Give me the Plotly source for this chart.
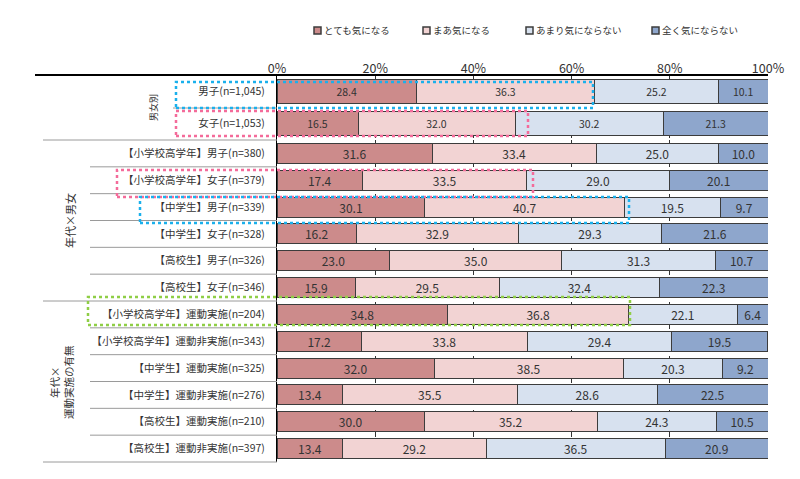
import plotly.graph_objects as go

# ---------------- data ----------------
series_names = ["とても気になる", "まあ気になる", "あまり気にならない", "全く気にならない"]

top_labels = ["男子(n=1,045)", "女子(n=1,053)"]
top_very = [28.4, 16.5]
top_some = [36.3, 32.0]
top_notmuch = [25.2, 30.2]
top_notatall = [10.1, 21.3]

bottom_labels = [
    "【小学校高学年】男子(n=380)",
    "【小学校高学年】女子(n=379)",
    "【中学生】男子(n=339)",
    "【中学生】女子(n=328)",
    "【高校生】男子(n=326)",
    "【高校生】女子(n=346)",
    "【小学校高学年】運動実施(n=204)",
    "【小学校高学年】運動非実施(n=343)",
    "【中学生】運動実施(n=325)",
    "【中学生】運動非実施(n=276)",
    "【高校生】運動実施(n=210)",
    "【高校生】運動非実施(n=397)",
]
bottom_very = [31.6, 17.4, 30.1, 16.2, 23.0, 15.9, 34.8, 17.2, 32.0, 13.4, 30.0, 13.4]
bottom_some = [33.4, 33.5, 40.7, 32.9, 35.0, 29.5, 36.8, 33.8, 38.5, 35.5, 35.2, 29.2]
bottom_notmuch = [25.0, 29.0, 19.5, 29.3, 31.3, 32.4, 22.1, 29.4, 20.3, 28.6, 24.3, 36.5]
bottom_notatall = [10.0, 20.1, 9.7, 21.6, 10.7, 22.3, 6.4, 19.5, 9.2, 22.5, 10.5, 20.9]

x_ticks = [0, 20, 40, 60, 80, 100]

group_labels = ["男女別", "年代×男女", "年代×<br>運動実施の有無"]

# ---------------- styling ----------------
FONT = "Noto Sans CJK JP"
colors = ["#cc8b8b", "#f2d3d3", "#d7e1ef", "#8ea6cc"]
outline = "#3c3c3c"
W, H = 800, 479
# page body margin shifts the figure by ~8px; compensate
OFF = 8
PX_LEFT, PX_RIGHT, PX_TOP, PX_BOTTOM = 277, 768, 75, 462  # plot area in window pixels
plot_w = PX_RIGHT - PX_LEFT
plot_h = PX_BOTTOM - PX_TOP
L = PX_LEFT - OFF
T = PX_TOP - OFF
R = W - (PX_RIGHT - OFF)
B = H - (PX_BOTTOM - OFF)

def px_x(px):
    return (px - PX_LEFT) / plot_w

def px_y(py):
    return (PX_BOTTOM - py) / plot_h

split = px_y(140)  # boundary between the two groups (paper)

fig = go.Figure()

top_series = [top_very, top_some, top_notmuch, top_notatall]
bottom_series = [bottom_very, bottom_some, bottom_notmuch, bottom_notatall]

for i, name in enumerate(series_names):
    fig.add_trace(go.Bar(
        name=name, x=top_series[i], y=top_labels, orientation="h",
        xaxis="x", yaxis="y",
        marker=dict(color=colors[i], line=dict(color=outline, width=1)),
        text=top_series[i], texttemplate="%{x:.1f}", textposition="inside",
        insidetextanchor="middle", constraintext="none", textangle=0,
        textfont=dict(family=FONT, size=10.5, color="#333333"),
        showlegend=False, hoverinfo="skip",
    ))
    fig.add_trace(go.Bar(
        name=name, x=bottom_series[i], y=bottom_labels, orientation="h",
        xaxis="x", yaxis="y2",
        marker=dict(color=colors[i], line=dict(color=outline, width=1)),
        text=bottom_series[i], texttemplate="%{x:.1f}", textposition="inside",
        insidetextanchor="middle", constraintext="none", textangle=0,
        textfont=dict(family=FONT, size=12, color="#333333"),
        showlegend=False, hoverinfo="skip",
    ))

shapes = []
annotations = []

def hline(py, x0px, x1px, color="#9a9a9a", width=1):
    shapes.append(dict(type="line", xref="paper", yref="paper",
                       x0=px_x(x0px), x1=px_x(x1px), y0=px_y(py), y1=px_y(py),
                       line=dict(color=color, width=width)))

# top heavy line
hline(75, 35, 768, color="#000000", width=2)
# separator inside first group
hline(108, 173, 277)
# group separators
hline(140, 43, 277)
n_b = len(bottom_labels)
for k in range(1, n_b):
    yb = split * (1 - k / n_b)
    x0 = 43 if k == 6 else 90
    shapes.append(dict(type="line", xref="paper", yref="paper",
                       x0=px_x(x0), x1=0, y0=yb, y1=yb,
                       line=dict(color="#9a9a9a", width=1)))
hline(462, 43, 277)

def box(x0px, x1px, y0px, y1px, color):
    shapes.append(dict(type="rect", xref="paper", yref="paper",
                       x0=px_x(x0px), x1=px_x(x1px), y0=px_y(y1px), y1=px_y(y0px),
                       line=dict(color=color, width=2.5, dash="dot"),
                       fillcolor="rgba(0,0,0,0)", layer="above"))

box(176, 593, 82, 108, "#1ab0ec")
box(176, 528, 111, 136, "#f46b9a")
box(117, 533, 170, 197, "#f46b9a")
box(140, 629, 197, 223, "#1ab0ec")
box(88, 630, 297, 325, "#8fce46")

# manual legend (small squares + text)
legend_px = [314, 423, 526, 652]
for i, name in enumerate(series_names):
    sx = legend_px[i]
    shapes.append(dict(type="rect", xref="paper", yref="paper",
                       x0=px_x(sx), x1=px_x(sx + 7), y0=px_y(34), y1=px_y(27),
                       line=dict(color=outline, width=1.5), fillcolor=colors[i]))
    annotations.append(dict(text=name, xref="paper", yref="paper",
                            x=px_x(sx + 8), y=px_y(30.5), xanchor="left", yanchor="middle",
                            showarrow=False,
                            font=dict(family=FONT, size=9.5, color="#333333")))

annotations += [
    dict(text=group_labels[0], xref="paper", yref="paper", x=px_x(153), y=px_y(108),
         xanchor="center", yanchor="middle",
         textangle=-90, showarrow=False, font=dict(family=FONT, size=9, color="#333333")),
    dict(text=group_labels[1], xref="paper", yref="paper", x=px_x(70), y=px_y(221),
         xanchor="center", yanchor="middle",
         textangle=-90, showarrow=False, font=dict(family=FONT, size=11, color="#333333")),
    dict(text=group_labels[2], xref="paper", yref="paper", x=px_x(61), y=px_y(382),
         xanchor="center", yanchor="middle",
         textangle=-90, showarrow=False, font=dict(family=FONT, size=10.5, color="#333333")),
]

fig.update_layout(
    template="none",
    width=W, height=H,
    margin=dict(l=L, r=R, t=T, b=B, pad=0, autoexpand=False),
    paper_bgcolor="white", plot_bgcolor="white",
    barmode="stack", bargap=0.25,
    font=dict(family=FONT, color="#333333"),
    xaxis=dict(
        range=[0, 100], tickvals=x_ticks, ticktext=[f"{v}%" for v in x_ticks],
        side="top", anchor="free", position=1, automargin=False,
        showgrid=True, gridcolor="#333333", griddash="dash", gridwidth=1,
        zeroline=False, showline=False, ticks="",
        tickfont=dict(family=FONT, size=12.5, color="#333333"),
        fixedrange=True,
    ),
    yaxis=dict(
        domain=[split, 1], anchor="x", autorange="reversed", automargin=False,
        categoryorder="array", categoryarray=top_labels,
        showline=True, linecolor="#000000", linewidth=1, ticks="",
        ticklabelstandoff=9,
        tickfont=dict(family=FONT, size=10.5, color="#333333"),
        showgrid=False, zeroline=False,
    ),
    yaxis2=dict(
        domain=[0, split], anchor="x", autorange="reversed", automargin=False,
        categoryorder="array", categoryarray=bottom_labels,
        showline=True, linecolor="#000000", linewidth=1, ticks="",
        ticklabelstandoff=9,
        tickfont=dict(family=FONT, size=10.5, color="#333333"),
        showgrid=False, zeroline=False,
    ),
    shapes=shapes,
    annotations=annotations,
    showlegend=False,
)

fig.write_html("out.html")
